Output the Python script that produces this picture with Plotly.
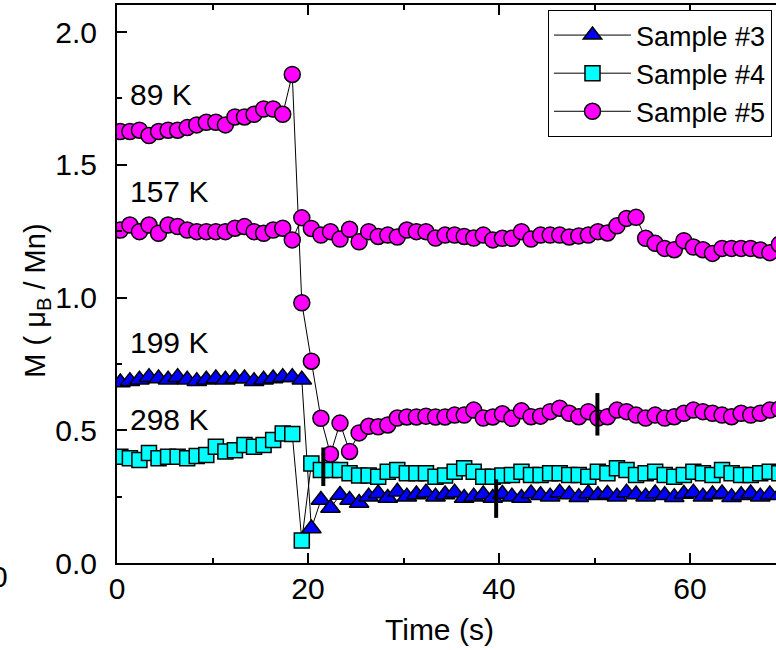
import plotly.graph_objects as go

# ---------------- data ----------------
t_all = [i + 0.35 for i in range(70)]

# Sample #5, 89 K curve (circles)
m5_89 = [1.625, 1.625, 1.63, 1.61, 1.625, 1.63, 1.63, 1.64, 1.65, 1.66,
         1.66, 1.65, 1.68, 1.68, 1.69, 1.71, 1.71, 1.69, 1.84, 0.98,
         0.76, 0.545, 0.41, 0.527, 0.42, 0.49, 0.515, 0.513, 0.52, 0.546,
         0.55, 0.55, 0.553, 0.55, 0.55, 0.557, 0.557, 0.576, 0.546, 0.55,
         0.562, 0.545, 0.573, 0.551, 0.553, 0.57, 0.583, 0.564, 0.551, 0.57,
         0.546, 0.551, 0.576, 0.57, 0.557, 0.546, 0.557, 0.546, 0.551, 0.564,
         0.576, 0.57, 0.564, 0.557, 0.551, 0.564, 0.557, 0.564, 0.576, 0.58]

# Sample #5, 157 K curve (circles)
m5_157 = [1.254, 1.273, 1.248, 1.273, 1.242, 1.273, 1.267, 1.254, 1.248, 1.248,
          1.248, 1.248, 1.261, 1.267, 1.248, 1.242, 1.254, 1.261, 1.217, 1.30,
          1.26, 1.235, 1.248, 1.22, 1.257, 1.21, 1.248, 1.23, 1.235, 1.228,
          1.254, 1.248, 1.248, 1.224, 1.235, 1.235, 1.23, 1.224, 1.235, 1.217,
          1.223, 1.223, 1.248, 1.22, 1.235, 1.235, 1.235, 1.228, 1.232, 1.235,
          1.248, 1.243, 1.27, 1.298, 1.302, 1.223, 1.204, 1.185, 1.18, 1.214,
          1.19, 1.18, 1.166, 1.185, 1.185, 1.185, 1.185, 1.179, 1.169, 1.2]

# Sample #3, 199 K (triangles)
m3 = [0.68, 0.685, 0.69, 0.70, 0.695, 0.69, 0.70, 0.69, 0.685, 0.69,
      0.695, 0.69, 0.695, 0.695, 0.685, 0.69, 0.695, 0.70, 0.70, 0.69,
      0.13, 0.237, 0.207, 0.256, 0.237, 0.226, 0.25, 0.262, 0.245, 0.268,
      0.25, 0.258, 0.265, 0.25, 0.258, 0.265, 0.245, 0.25, 0.258, 0.245,
      0.26, 0.25, 0.245, 0.262, 0.255, 0.25, 0.265, 0.258, 0.248, 0.262,
      0.255, 0.26, 0.25, 0.265, 0.258, 0.25, 0.262, 0.255, 0.248, 0.26,
      0.265, 0.25, 0.258, 0.262, 0.248, 0.255, 0.262, 0.25, 0.258, 0.255]

# Sample #4, 298 K (squares)
m4 = [0.40, 0.395, 0.388, 0.414, 0.395, 0.40, 0.40, 0.395, 0.403, 0.407,
      0.438, 0.42, 0.425, 0.444, 0.438, 0.444, 0.463, 0.488, 0.486, 0.085,
      0.375, 0.35, 0.35, 0.35, 0.338, 0.33, 0.33, 0.325, 0.344, 0.35,
      0.338, 0.338, 0.338, 0.325, 0.33, 0.344, 0.357, 0.344, 0.325, 0.325,
      0.33, 0.331, 0.344, 0.331, 0.331, 0.338, 0.338, 0.331, 0.331, 0.325,
      0.344, 0.338, 0.357, 0.35, 0.331, 0.338, 0.344, 0.331, 0.325, 0.331,
      0.344, 0.338, 0.331, 0.35, 0.338, 0.331, 0.331, 0.338, 0.344, 0.338]

# vertical black markers (time, y-bottom, y-top)
bar_t = [21.6, 39.7, 50.3]
bar_lo = [0.29, 0.17, 0.48]
bar_hi = [0.435, 0.315, 0.64]

temp_labels = ["89 K", "157 K", "199 K", "298 K"]
temp_label_y = [1.763, 1.398, 0.83, 0.542]

FONT = "Liberation Sans, Arial, sans-serif"

fig = go.Figure()

line_style = dict(color="black", width=1)

fig.add_trace(go.Scatter(
    x=t_all, y=m3, mode="lines+markers", name="Sample #3",
    line=line_style,
    marker=dict(symbol="triangle-up", size=17, color="#0000FF",
                line=dict(color="black", width=1.5))))

fig.add_trace(go.Scatter(
    x=t_all, y=m4, mode="lines+markers", name="Sample #4",
    line=line_style,
    marker=dict(symbol="square", size=15, color="#00FFFF",
                line=dict(color="black", width=1.5))))

fig.add_trace(go.Scatter(
    x=t_all, y=m5_89, mode="lines+markers", name="Sample #5",
    line=line_style,
    marker=dict(symbol="circle", size=16, color="#FF00FF",
                line=dict(color="black", width=1.5))))

fig.add_trace(go.Scatter(
    x=t_all, y=m5_157, mode="lines+markers", name="Sample #5 (157 K)",
    showlegend=False,
    line=line_style,
    marker=dict(symbol="circle", size=16, color="#FF00FF",
                line=dict(color="black", width=1.5))))

for bt, lo, hi in zip(bar_t, bar_lo, bar_hi):
    fig.add_trace(go.Scatter(
        x=[bt, bt], y=[lo, hi], mode="lines", showlegend=False,
        line=dict(color="black", width=4), hoverinfo="skip"))

for txt, yv in zip(temp_labels, temp_label_y):
    fig.add_annotation(x=1.2, y=yv, xref="x", yref="y", text=txt,
                       showarrow=False, xanchor="left", yanchor="middle",
                       font=dict(size=30, color="black", family=FONT))

# axis titles
fig.add_annotation(xref="paper", yref="paper", x=0.49, y=-0.12,
                   text="Time (s)", showarrow=False,
                   xanchor="center", yanchor="middle",
                   font=dict(size=30, color="black", family=FONT))
fig.add_annotation(xref="paper", yref="paper", x=-0.1214, y=0.47,
                   text="M ( μ<sub>B</sub> / Mn)", showarrow=False,
                   textangle=-90, xanchor="center", yanchor="middle",
                   font=dict(size=29, color="black", family=FONT))
# fragment of neighbouring panel's tick label
fig.add_annotation(xref="paper", yref="paper", x=-0.179, y=-0.025,
                   text="0", showarrow=False,
                   xanchor="center", yanchor="middle",
                   font=dict(size=30, color="black", family=FONT))

fig.update_layout(
    width=776, height=650,
    margin=dict(l=117, r=0, t=5, b=87),
    paper_bgcolor="white", plot_bgcolor="white",
    font=dict(family=FONT, size=30, color="black"),
    legend=dict(x=0.654, y=0.991, xanchor="left", yanchor="top",
                bgcolor="white", bordercolor="black", borderwidth=1,
                font=dict(size=27, family=FONT, color="black"),
                tracegroupgap=0, itemwidth=77),
)

fig.update_xaxes(
    range=[0, 69.0], tickvals=[0, 20, 40, 60], ticks="inside", ticklen=10,
    tickwidth=2, tickcolor="black", showline=True, linewidth=2,
    linecolor="black", mirror="allticks", showgrid=False, zeroline=False,
    ticklabelstandoff=-2,
    tickfont=dict(size=30, family=FONT, color="black"),
    minor=dict(dtick=10, tick0=0, ticks="inside", ticklen=5, tickwidth=2,
               tickcolor="black", showgrid=False))

fig.update_yaxes(
    range=[0, 2.1017], dtick=0.5, tick0=0, tickformat=".1f",
    ticks="inside", ticklen=10, tickwidth=2, tickcolor="black",
    showline=True, linewidth=2, linecolor="black", mirror=False,
    showgrid=False, zeroline=False, ticklabelstandoff=12,
    tickfont=dict(size=30, family=FONT, color="black"),
    minor=dict(dtick=0.25, tick0=0, ticks="inside", ticklen=5, tickwidth=2,
               tickcolor="black", showgrid=False))

fig.write_html("out.html")
